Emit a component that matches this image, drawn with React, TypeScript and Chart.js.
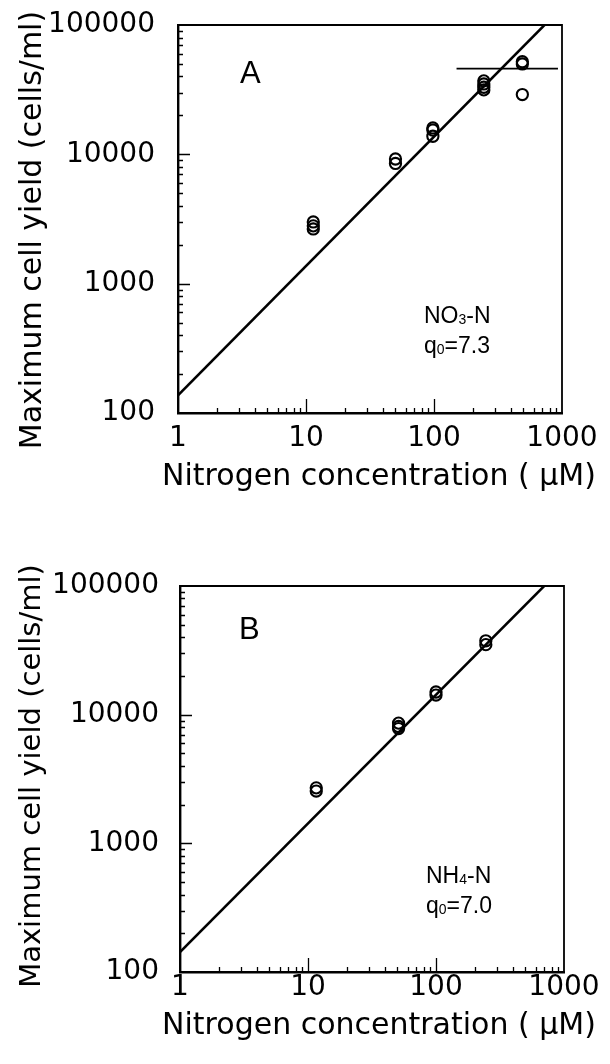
import React, { useEffect, useRef } from 'react';
import { Chart, registerables } from 'chart.js';

Chart.register(...registerables);

// ---------- data ----------
const xTickLabels = ['1', '10', '100', '1000'];
const yTickLabels = ['100', '1000', '10000', '100000'];
const xTitle = 'Nitrogen concentration ( μM)';
const yTitle = 'Maximum cell yield (cells/ml)';
const panelLetters = ['A', 'B'];
const nitrogenForms = [['NO', '3', '-N'], ['NH', '4', '-N']];
const q0Values = ['7.3', '7.0'];

// Panel A: NO3-N
const nitrateX = [11.4, 11.4, 11.4, 50, 50, 98, 98, 98, 245, 245, 245, 245, 490, 490, 490];
const nitrateY = [3000, 2800, 2650, 9200, 8500, 16000, 15400, 13800, 37000, 35000, 33000, 31500, 52000, 50000, 29000];
const nitrateFitX = [1, 730];
const nitrateFitY = [137, 100000];
const nitrateMaxX = [150, 930];
const nitrateMaxY = [46000, 46000];

// Panel B: NH4-N
const ammoniumX = [11.6, 11.6, 51, 51, 51, 100, 100, 245, 245];
const ammoniumY = [2700, 2550, 8600, 8100, 7800, 15000, 14200, 37500, 35000];
const ammoniumFitX = [1, 700];
const ammoniumFitY = [143, 100000];

// ---------- helpers ----------
const pts = (xs: number[], ys: number[]) => xs.map((x, i) => ({ x, y: ys[i] }));
const isDecade = (v: number) => Math.abs(Math.log10(v) - Math.round(Math.log10(v))) < 1e-9;
function logTicks(min: number, max: number) {
  const out: { value: number }[] = [];
  for (let e = Math.floor(Math.log10(min)); e <= Math.ceil(Math.log10(max)); e++) {
    for (let m = 1; m <= 9; m++) {
      const v = m * Math.pow(10, e);
      if (v >= min * 0.999999 && v <= max * 1.000001) out.push({ value: v });
    }
  }
  return out;
}

const frameTicks = {
  id: 'frameTicks',
  afterDatasetsDraw(chart: any) {
    const { ctx, chartArea: a } = chart;
    const xs = chart.scales.x, ys = chart.scales.y;
    ctx.save();
    ctx.strokeStyle = '#000';
    ctx.lineWidth = 1.8;
    ctx.beginPath();
    ctx.moveTo(a.left, a.top);
    ctx.lineTo(a.right, a.top);
    ctx.lineTo(a.right, a.bottom);
    ctx.stroke();
    ctx.lineWidth = 1.3;
    ctx.beginPath();
    for (const t of ys.ticks) {
      const p = Math.round(ys.getPixelForValue(t.value)) + 0.5;
      if (p < a.top + 2 || p > a.bottom - 2) continue;
      const len = isDecade(t.value) ? 12 : 5;
      ctx.moveTo(a.left, p);
      ctx.lineTo(a.left + len, p);
    }
    for (const t of xs.ticks) {
      const p = Math.round(xs.getPixelForValue(t.value)) + 0.5;
      if (p < a.left + 2 || p > a.right - 2) continue;
      const len = isDecade(t.value) ? 14 : 5;
      ctx.moveTo(p, a.bottom);
      ctx.lineTo(p, a.bottom - len);
    }
    ctx.stroke();
    ctx.restore();
  },
};

const annotations = {
  id: 'annotations',
  afterDraw(chart: any, _args: any, o: any) {
    const { ctx, chartArea: a } = chart;
    ctx.save();
    ctx.fillStyle = '#000';
    // axis titles (drawn without width squeezing)
    ctx.textAlign = 'center';
    ctx.textBaseline = 'middle';
    ctx.font = '30px "DejaVu Sans"';
    ctx.fillText(xTitle, o.xTitleX, o.xTitleY);
    ctx.save();
    ctx.translate(o.yTitleX, o.yTitleY);
    ctx.rotate(-Math.PI / 2);
    ctx.font = o.yTitleFont;
    ctx.fillText(yTitle, 0, 0);
    ctx.restore();

    ctx.textBaseline = 'alphabetic';
    ctx.textAlign = 'left';
    ctx.font = '31px "Liberation Sans"';
    ctx.fillText(o.letter, a.left + o.letterDx, a.top + o.letterDy);
    const big = '23px "Liberation Sans"';
    const small = '14px "Liberation Sans"';
    let x = a.left + o.textDx;
    let y = a.top + o.line1Dy;
    const parts = o.form;
    ctx.font = big; ctx.fillText(parts[0], x, y); x += ctx.measureText(parts[0]).width;
    ctx.font = small; ctx.fillText(parts[1], x, y + 1); x += ctx.measureText(parts[1]).width;
    ctx.font = big; ctx.fillText(parts[2], x, y);
    x = a.left + o.textDx;
    y = a.top + o.line2Dy;
    ctx.font = big; ctx.fillText('q', x, y); x += ctx.measureText('q').width;
    ctx.font = small; ctx.fillText('0', x, y + 1); x += ctx.measureText('0').width;
    ctx.font = big; ctx.fillText('=' + o.q, x, y);
    ctx.restore();
  },
};

type PanelCfg = {
  datasets: any[];
  layoutTop: number;
  layoutRight: number;
  yWidth: number;
  xHeight: number;
  xLabelPad: number;
  yLabelPad: number;
  annot: any;
};

const zeroPad = (s: any) => {
  s.paddingTop = 0;
  s.paddingBottom = 0;
  s.paddingLeft = 0;
  s.paddingRight = 0;
};

function makeConfig(p: PanelCfg): any {
  return {
    type: 'scatter',
    data: { datasets: p.datasets },
    options: {
      animation: false,
      responsive: false,
      devicePixelRatio: 1,
      layout: { padding: { left: 0, right: p.layoutRight, top: p.layoutTop, bottom: 0 } },
      plugins: {
        legend: { display: false },
        tooltip: { enabled: false },
        annotations: p.annot,
      },
      scales: {
        x: {
          type: 'logarithmic',
          min: 1,
          max: 1000,
          afterBuildTicks: (s: any) => { s.ticks = logTicks(1, 1000); },
          afterFit: (s: any) => { s.height = p.xHeight; zeroPad(s); },
          grid: { display: false, drawTicks: false },
          border: { display: true, color: '#000', width: 2.4 },
          ticks: {
            autoSkip: false,
            maxRotation: 0,
            minRotation: 0,
            padding: p.xLabelPad,
            color: '#000',
            font: { family: 'DejaVu Sans', size: 28 },
            callback: (v: any) => (xTickLabels.includes(String(v)) ? String(v) : ''),
          },
          title: { display: false },
        },
        y: {
          type: 'logarithmic',
          min: 100,
          max: 100000,
          afterBuildTicks: (s: any) => { s.ticks = logTicks(100, 100000); },
          afterFit: (s: any) => { s.width = p.yWidth; zeroPad(s); },
          grid: { display: false, drawTicks: false },
          border: { display: true, color: '#000', width: 2.4 },
          ticks: {
            autoSkip: false,
            padding: p.yLabelPad,
            color: '#000',
            font: { family: 'DejaVu Sans', size: 28 },
            callback: (v: any) => (yTickLabels.includes(String(v)) ? String(v) : ''),
          },
          title: { display: false },
        },
      },
    },
    plugins: [frameTicks, annotations],
  };
}

const pointStyle = {
  showLine: false,
  pointRadius: 5.6,
  pointBorderWidth: 2.1,
  pointBackgroundColor: 'rgba(0,0,0,0)',
  pointBorderColor: '#000',
  borderColor: '#000',
};
const lineStyle = (w: number) => ({
  showLine: true,
  borderColor: '#000',
  borderWidth: w,
  pointRadius: 0,
  fill: false,
});

const panelA: PanelCfg = {
  datasets: [
    { label: 'fit', data: pts(nitrateFitX, nitrateFitY), ...lineStyle(2.5) },
    { label: 'max', data: pts(nitrateMaxX, nitrateMaxY), ...lineStyle(1.8) },
    { label: 'NO3-N', data: pts(nitrateX, nitrateY), ...pointStyle },
  ],
  layoutTop: 25,
  layoutRight: 48,
  yWidth: 178,
  xHeight: 119,
  xLabelPad: 9,
  yLabelPad: 23,
  annot: {
    letter: panelLetters[0], letterDx: 62, letterDy: 58, form: nitrogenForms[0], q: q0Values[0],
    textDx: 246, line1Dy: 298, line2Dy: 328,
    xTitleX: 379, xTitleY: 477, yTitleX: 33, yTitleY: 230, yTitleFont: '30px "DejaVu Sans"',
  },
};

const panelB: PanelCfg = {
  datasets: [
    { label: 'fit', data: pts(ammoniumFitX, ammoniumFitY), ...lineStyle(2.5) },
    { label: 'NH4-N', data: pts(ammoniumX, ammoniumY), ...pointStyle },
  ],
  layoutTop: 54,
  layoutRight: 46,
  yWidth: 180,
  xHeight: 92,
  xLabelPad: -1,
  yLabelPad: 21,
  annot: {
    letter: panelLetters[1], letterDx: 59, letterDy: 53, form: nitrogenForms[1], q: q0Values[1],
    textDx: 246, line1Dy: 297, line2Dy: 327,
    xTitleX: 379, xTitleY: 494, yTitleX: 32, yTitleY: 244, yTitleFont: '29px "DejaVu Sans"',
  },
};

function Panel({ cfg, top }: { cfg: PanelCfg; top: number }) {
  const ref = useRef<HTMLCanvasElement>(null);
  useEffect(() => {
    if (!ref.current) return;
    const chart = new Chart(ref.current, makeConfig(cfg));
    return () => chart.destroy();
  }, [cfg]);
  return (
    <canvas
      ref={ref}
      width={610}
      height={532}
      style={{ position: 'absolute', left: 0, top, width: 610, height: 532, display: 'block' }}
    />
  );
}

export default function App() {
  return (
    <div style={{ position: 'absolute', left: 0, top: 0, width: 610, height: 1064, background: '#fff' }}>
      <Panel cfg={panelA} top={0} />
      <Panel cfg={panelB} top={532} />
    </div>
  );
}
